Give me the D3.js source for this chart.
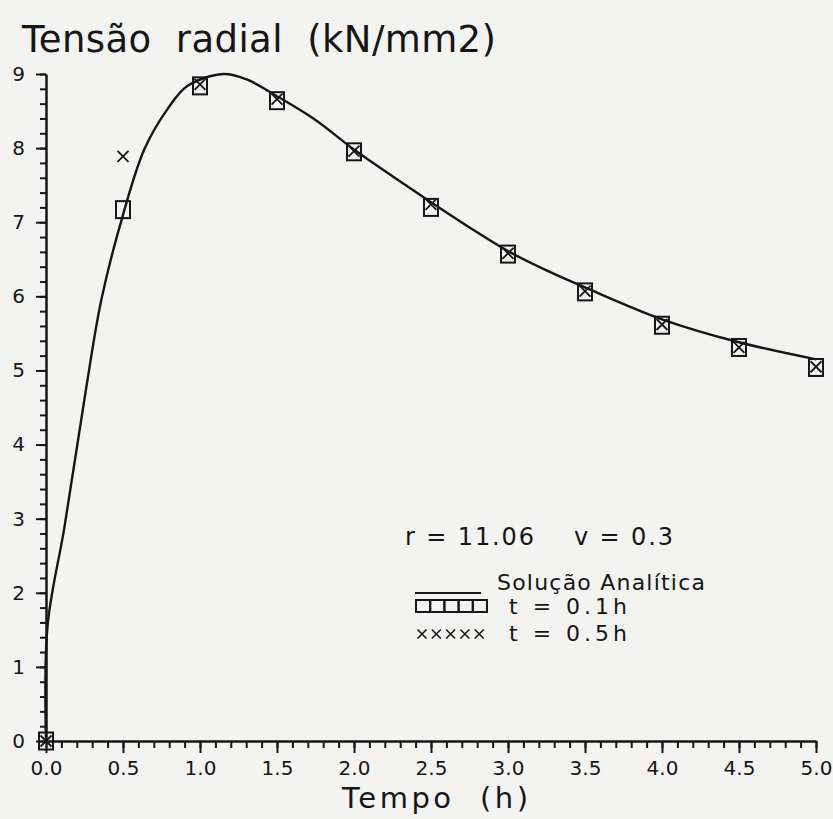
<!DOCTYPE html>
<html>
<head>
<meta charset="utf-8">
<script src="https://cdn.jsdelivr.net/npm/d3@7"></script>
<style>
  body { margin: 0; background: #f3f3f1; }
  svg text { font-family: "DejaVu Sans", sans-serif; fill: #161616; white-space: pre; }
</style>
</head>
<body>
<script>
const width = 833
const height = 819
const ink = "#161616"

// analytic solution
const curveT = [0, 0.01, 0.12, 0.26, 0.36, 0.5, 0.64, 0.79, 0.92, 1.15, 1.3, 1.5, 1.75, 2.0, 2.25, 2.5, 2.75, 3.0, 3.25, 3.5, 4.0, 4.5, 5.0]
const curveV = [0, 1.55, 2.89, 4.75, 5.96, 7.1, 7.99, 8.53, 8.84, 9.0, 8.93, 8.7, 8.38, 7.98, 7.62, 7.27, 6.93, 6.61, 6.35, 6.12, 5.69, 5.38, 5.15]

// numeric results
const timeSteps = [0, 0.5, 1.0, 1.5, 2.0, 2.5, 3.0, 3.5, 4.0, 4.5, 5.0]
const squareV = [0, 7.17, 8.84, 8.64, 7.95, 7.2, 6.57, 6.06, 5.61, 5.31, 5.04]
const crossV = [0, 7.89, 8.86, 8.66, 7.96, 7.24, 6.58, 6.07, 5.62, 5.31, 5.05]

const xMajor = d3.range(0, 5.001, 0.5)
const xMinor = d3.range(0, 50.5, 1).map(d => d/10)
const yMajor = d3.range(0, 10, 1)
const yMinor = d3.range(0, 45.5, 1).map(d => d/5)

const svg = d3.select("body").append("svg")
    .attr("width", width)
    .attr("height", height)

let x = d3.scaleLinear().domain([0, 5]).range([46, 816])
let y = d3.scaleLinear().domain([0, 9]).range([741, 74])

// minor ticks first
svg.append("g")
    .attr("transform", `translate(0,${y(0)})`)
    .call(d3.axisBottom(x).tickValues(xMinor).tickSize(7).tickSizeOuter(0).tickFormat(""))
svg.append("g")
    .attr("transform", `translate(${x(0)},0)`)
    .call(d3.axisLeft(y).tickValues(yMinor).tickSize(6).tickSizeOuter(0).tickFormat(""))

let xAxis = svg.append("g")
    .attr("transform", `translate(0,${y(0)})`)
    .call(d3.axisBottom(x).tickValues(xMajor).tickSize(12).tickSizeOuter(0).tickPadding(8).tickFormat(d3.format(".1f")))
let yAxis = svg.append("g")
    .attr("transform", `translate(${x(0)},0)`)
    .call(d3.axisLeft(y).tickValues(yMajor).tickSize(10).tickSizeOuter(0).tickPadding(11))

svg.selectAll(".domain, .tick line")
    .attr("stroke", ink)
    .attr("stroke-width", 2)
svg.selectAll(".tick text")
    .style("font-size", "20px")
    .attr("fill", ink)

// curve
let pts = curveT.map((t, i) => [t, curveV[i]])
svg.append("path")
    .datum(pts)
    .attr("fill", "none")
    .attr("stroke", ink)
    .attr("stroke-width", 2.4)
    .attr("d", d3.line().x(d => x(d[0])).y(d => y(d[1])).curve(d3.curveCatmullRom.alpha(0.5)))

// squares
svg.selectAll(".sq")
    .data(timeSteps)
    .enter()
    .append("rect")
    .attr("x", d => x(d) - 7)
    .attr("y", (d, i) => y(squareV[i]) - 8.5)
    .attr("width", 14)
    .attr("height", 17)
    .attr("fill", "none")
    .attr("stroke", ink)
    .attr("stroke-width", 2)

// crosses
svg.selectAll(".cr")
    .data(timeSteps)
    .enter()
    .append("path")
    .attr("d", (d, i) => {
        let cx = x(d), cy = y(crossV[i]), s = 5.5
        return `M${cx-s},${cy-s}L${cx+s},${cy+s}M${cx-s},${cy+s}L${cx+s},${cy-s}`
    })
    .attr("stroke", ink)
    .attr("stroke-width", 1.8)

// titles
svg.append("text")
    .attr("x", 22)
    .attr("y", 52)
    .attr("textLength", 474)
    .attr("lengthAdjust", "spacing")
    .style("font-size", "37px")
    .text("Tensão  radial  (kN/mm2)")

svg.append("text")
    .attr("x", 342)
    .attr("y", 808)
    .attr("textLength", 186)
    .attr("lengthAdjust", "spacing")
    .style("font-size", "29px")
    .text("Tempo  (h)")

// annotation + legend
svg.append("text")
    .attr("x", 405)
    .attr("y", 545)
    .attr("textLength", 268)
    .attr("lengthAdjust", "spacing")
    .style("font-size", "24px")
    .text("r = 11.06    v = 0.3")

const legendLabels = ["Solução Analítica", "t = 0.1h", "t = 0.5h"]
const legendY = [590, 614, 641]
const legendX = [497, 509, 509]
const legendLen = [208, 118, 118]

svg.selectAll(".leg")
    .data(legendLabels)
    .enter()
    .append("text")
    .attr("x", (d, i) => legendX[i])
    .attr("y", (d, i) => legendY[i])
    .attr("textLength", (d, i) => legendLen[i])
    .attr("lengthAdjust", "spacing")
    .style("font-size", "22px")
    .text(d => d)

svg.append("line")
    .attr("x1", 415).attr("x2", 481)
    .attr("y1", 593).attr("y2", 593)
    .attr("stroke", ink)
    .attr("stroke-width", 2)

svg.selectAll(".legsq")
    .data(d3.range(5))
    .enter()
    .append("rect")
    .attr("x", d => 416 + d*14.2)
    .attr("y", 600)
    .attr("width", 14.2)
    .attr("height", 12)
    .attr("fill", "none")
    .attr("stroke", ink)
    .attr("stroke-width", 2)

svg.selectAll(".legx")
    .data(d3.range(5))
    .enter()
    .append("path")
    .attr("d", d => {
        let cx = 422 + d*14.3, cy = 634, s = 4.5
        return `M${cx-s},${cy-s}L${cx+s},${cy+s}M${cx-s},${cy+s}L${cx+s},${cy-s}`
    })
    .attr("stroke", ink)
    .attr("stroke-width", 1.6)
</script>
</body>
</html>
